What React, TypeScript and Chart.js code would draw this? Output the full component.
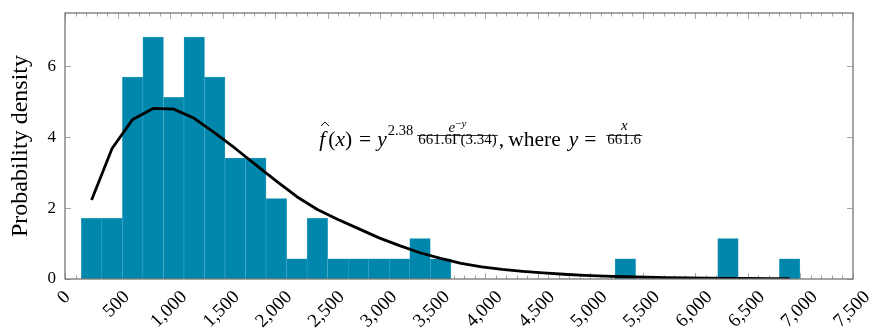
import React, { useEffect, useRef } from 'react';
import { Chart, registerables } from 'chart.js';

Chart.register(...registerables);

// Histogram bin centres (data units) and probability densities (×10^-4)
const binCenters = [
  253, 448, 644, 839, 1035, 1230, 1425, 1621, 1816, 2012,
  2207, 2402, 2598, 2793, 2989, 3184, 3379, 3575, 3770, 3966,
  4161, 4356, 4552, 4747, 4943, 5138, 5333, 5529, 5724, 5920,
  6115, 6310, 6506, 6701, 6897,
];
const densities = [
  1.71, 1.71, 5.69, 6.82, 5.12, 6.82, 5.69, 3.41, 3.41, 2.27,
  0.57, 1.71, 0.57, 0.57, 0.57, 0.57, 1.14, 0.57, 0, 0,
  0, 0, 0, 0, 0, 0, 0.57, 0, 0, 0,
  0, 1.14, 0, 0, 0.57,
];
// Fitted gamma density evaluated at the bin centres
const fitValues = [
  2.23, 3.68, 4.5, 4.81, 4.79, 4.53, 4.12, 3.68, 3.22, 2.76,
  2.32, 1.96, 1.68, 1.42, 1.16, 0.94, 0.74, 0.58, 0.44, 0.34,
  0.27, 0.215, 0.17, 0.134, 0.105, 0.082, 0.064, 0.05, 0.039, 0.03,
  0.024, 0.018, 0.014, 0.011, 0.009,
];
const xTicks = [0, 500, 1000, 1500, 2000, 2500, 3000, 3500, 4000, 4500, 5000, 5500, 6000, 6500, 7000, 7500];
const yTicks = [0, 2, 4, 6];
const xRange = [0, 7500];
const yRange = [0, 7.5];
const xMinorStep = 100;
const yLabel = 'Probability density';
const formulaAnchor = { x: 2420, y: 3.75 };

const SERIF = '"Liberation Serif", "DejaVu Serif", serif';

function drawFormula(ctx: CanvasRenderingContext2D, x0: number, base: number) {
  ctx.save();
  ctx.fillStyle = '#000';
  ctx.strokeStyle = '#000';
  ctx.textBaseline = 'alphabetic';
  ctx.textAlign = 'left';
  let x = x0;
  const put = (t: string, font: string, dy = 0) => {
    ctx.font = font;
    ctx.fillText(t, x, base + dy);
    const w = ctx.measureText(t).width;
    x += w;
    return w;
  };
  const width = (t: string, font: string) => {
    ctx.font = font;
    return ctx.measureText(t).width;
  };
  const main = `21.5px ${SERIF}`;
  const mainI = `italic 21.5px ${SERIF}`;
  const sm = `15px ${SERIF}`;
  const smI = `italic 15px ${SERIF}`;
  const sup = `14.5px ${SERIF}`;
  const tinyI = `italic 11px ${SERIF}`;
  const tiny = `11px ${SERIF}`;

  // f-hat
  const fStart = x;
  const fw = put('f', mainI);
  const cx = fStart + fw * 0.62 + 2;
  ctx.lineWidth = 1;
  ctx.beginPath();
  ctx.moveTo(cx - 4, base - 20);
  ctx.lineTo(cx, base - 24);
  ctx.lineTo(cx + 4, base - 20);
  ctx.stroke();
  x += 3;
  put('(', main);
  put('x', mainI);
  put(')', main);
  x += 7;
  put('=', main);
  x += 6;
  put('y', mainI);
  x += 1;
  put('2.38', sup, -11);
  x += 4;

  // fraction e^{-y} / 661.6Γ(3.34)
  const den1 = '661.6Γ(3.34)';
  const numW = width('e', smI) + width('−', tiny) + width('y', tinyI);
  const denW = width(den1, sm);
  const W1 = Math.max(numW, denW) + 2;
  const fx = x;
  ctx.lineWidth = 0.8;
  ctx.beginPath();
  ctx.moveTo(fx, base - 10.5);
  ctx.lineTo(fx + W1, base - 10.5);
  ctx.stroke();
  x = fx + (W1 - numW) / 2;
  put('e', smI, -14.5);
  put('−', tiny, -19.5);
  put('y', tinyI, -19.5);
  x = fx + (W1 - denW) / 2;
  put(den1, sm, -2);
  x = fx + W1 + 1;

  put(',', main);
  x += 4;
  put('where', main);
  x += 8;
  put('y', mainI);
  x += 6;
  put('=', main);
  x += 10;

  // fraction x / 661.6
  const den2 = '661.6';
  const nW = width('x', smI);
  const dW = width(den2, sm);
  const W2 = Math.max(nW, dW) + 2;
  const gx = x;
  ctx.lineWidth = 0.8;
  ctx.beginPath();
  ctx.moveTo(gx, base - 10.5);
  ctx.lineTo(gx + W2, base - 10.5);
  ctx.stroke();
  x = gx + (W2 - nW) / 2;
  put('x', smI, -16);
  x = gx + (W2 - dW) / 2;
  put(den2, sm, -2);
  ctx.restore();
}

const axisDecor = {
  id: 'axisDecor',
  beforeDatasetsDraw(chart: any) {
    const { ctx, chartArea: a, scales } = chart;
    const xs = scales.x;
    const ys = scales.y;
    ctx.save();
    ctx.strokeStyle = '#a6a6a6';
    ctx.lineWidth = 1;
    ctx.beginPath();
    for (let v = xRange[0]; v <= xRange[1]; v += xMinorStep) {
      const major = v % 500 === 0;
      const len = major ? 6 : 3.5;
      const px = Math.round(xs.getPixelForValue(v)) + 0.5;
      ctx.moveTo(px, a.bottom);
      ctx.lineTo(px, a.bottom - len);
      ctx.moveTo(px, a.top);
      ctx.lineTo(px, a.top + len);
    }
    for (const v of yTicks) {
      const py = Math.round(ys.getPixelForValue(v)) + 0.5;
      ctx.moveTo(a.left, py);
      ctx.lineTo(a.left + 6, py);
      ctx.moveTo(a.right, py);
      ctx.lineTo(a.right - 6, py);
    }
    ctx.stroke();
    ctx.restore();
  },
  afterDatasetsDraw(chart: any) {
    const { ctx, chartArea: a, scales } = chart;
    const xs = scales.x;
    const ys = scales.y;
    ctx.save();
    // frame
    ctx.strokeStyle = '#777777';
    ctx.lineWidth = 1.3;
    ctx.strokeRect(a.left, a.top, a.right - a.left, a.bottom - a.top);
    // rotated x tick labels, centred under ticks
    ctx.fillStyle = '#000';
    ctx.font = `19px ${SERIF}`;
    ctx.textAlign = 'center';
    ctx.textBaseline = 'middle';
    const h = 12;
    for (const v of xTicks) {
      const label = v.toLocaleString('en-US');
      const w = ctx.measureText(label).width;
      const bbox = (w + h) * Math.SQRT1_2;
      const px = xs.getPixelForValue(v);
      const cy = a.bottom + 11 + bbox / 2;
      ctx.save();
      ctx.translate(px - 1, cy);
      ctx.rotate(-Math.PI / 4);
      ctx.fillText(label, 0, 0);
      ctx.restore();
    }
    ctx.restore();
    drawFormula(ctx, xs.getPixelForValue(formulaAnchor.x), ys.getPixelForValue(formulaAnchor.y));
  },
};

export default function App() {
  const ref = useRef<HTMLCanvasElement | null>(null);
  useEffect(() => {
    if (!ref.current) return;
    const barData = binCenters
      .map((x, i) => ({ x, y: densities[i] }))
      .filter((p) => p.y > 0);
    const lineData = binCenters.map((x, i) => ({ x, y: fitValues[i] }));
    const chart = new Chart(ref.current, {
      type: 'bar',
      data: {
        datasets: [
          {
            type: 'line',
            data: lineData,
            borderColor: '#000',
            borderWidth: 2.8,
            pointRadius: 0,
            tension: 0,
            order: 0,
            borderJoinStyle: 'round',
          } as any,
          {
            type: 'bar',
            data: barData,
            backgroundColor: '#0087ab',
            borderColor: '#4eb2cc',
            borderWidth: 0.5,
            barPercentage: 1,
            categoryPercentage: 1,
            order: 1,
          } as any,
        ],
      },
      options: {
        animation: false,
        responsive: true,
        maintainAspectRatio: false,
        layout: { padding: { top: 13, right: 22, left: 0, bottom: 0 } },
        plugins: { legend: { display: false }, tooltip: { enabled: false } },
        scales: {
          x: {
            type: 'linear',
            min: xRange[0],
            max: xRange[1],
            offset: false,
            grid: { display: false },
            border: { display: false },
            ticks: { display: false },
            afterBuildTicks: (s: any) => {
              s.ticks = xTicks.map((value) => ({ value }));
            },
            afterFit: (s: any) => {
              s.height = 52;
              s.paddingLeft = 0;
              s.paddingRight = 0;
              s.paddingTop = 0;
              s.paddingBottom = 0;
            },
          },
          y: {
            type: 'linear',
            min: yRange[0],
            max: yRange[1],
            grid: { display: false, drawTicks: false },
            border: { display: false },
            ticks: {
              padding: 9,
              color: '#000',
              font: { family: SERIF, size: 17 },
            },
            afterBuildTicks: (s: any) => {
              s.ticks = yTicks.map((value) => ({ value }));
            },
            afterFit: (s: any) => {
              s.width = 65;
              s.paddingTop = 0;
              s.paddingBottom = 0;
              s.paddingLeft = 0;
              s.paddingRight = 0;
            },
            title: {
              display: true,
              text: yLabel,
              color: '#000',
              font: { family: SERIF, size: 24 },
              padding: { top: 6, bottom: 0 },
            },
          },
        },
      },
      plugins: [axisDecor],
    });
    return () => chart.destroy();
  }, []);
  return (
    <div style={{ position: 'fixed', left: 0, top: 0, width: 875, height: 331, background: '#fff' }}>
      <canvas ref={ref} />
    </div>
  );
}
